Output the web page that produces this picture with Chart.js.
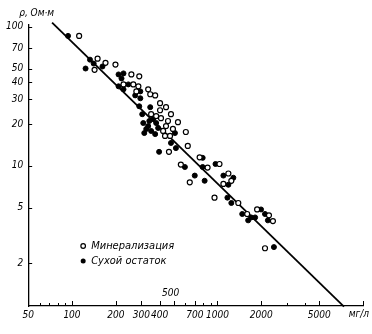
<!DOCTYPE html>
<html>
<head>
<meta charset="utf-8">
<script src="https://cdn.jsdelivr.net/npm/chart.js@4/dist/chart.umd.min.js"></script>
<style>
  body { margin: 0; background: #fff; }
</style>
</head>
<body>
<canvas id="chart" width="372" height="334"></canvas>
<script>
// Минерализация (open circles), mg/l vs ohm·m
var mineralX = [112,150,170,143,199,256,290,226,264,286,277,334,345,373,403,443,403,479,350,379,409,457,535,443,423,494,436,472,606,625,464,754,560,855,1032,645,1188,1245,1098,954,1390,1600,1872,2258,2404,2121];
var mineralY = [86,59,55,49,53.5,45.4,44,38.5,38.5,37.3,34.3,35.5,32.7,32.1,28.2,26.4,25.1,23.5,23.5,22.8,22,21,20.6,19.3,17.8,18.4,16.4,16.4,17.5,13.9,12.6,11.5,10.2,9.7,10.3,7.6,8.8,7.8,7.4,5.9,5.4,4.5,4.85,4.4,4.0,2.55];

// Сухой остаток (filled circles)
var dryX = [94,133,141,162,124,209,226,219,209,244,226,295,272,295,290,345,304,309,361,379,334,324,350,391,373,510,479,518,397,791,597,791,969,698,816,1098,1285,1188,1170,1245,1479,1703,1625,1814,1992,2121,2220,2443,340,314];
var dryY = [86,58,54.4,51.8,50.1,45.4,46.2,42.5,37.3,38.5,35.5,34.3,32.1,30.6,26.8,26.4,23.5,20.3,21.7,20.3,19.3,18.4,17.8,18.7,16.9,17.2,14.6,13.4,12.6,11.4,9.8,9.8,10.3,8.5,7.8,8.5,8.2,7.3,5.9,5.4,4.5,4.25,4.05,4.25,4.85,4.5,4.05,2.6,21.0,17.2];

// regression line ends
var lineX = [73, 7400];
var lineY = [107, 0.97];

var xTicks = [50,60,70,80,90,100,200,300,400,500,600,700,800,900,1000,2000,3000,4000,5000,10000];
var xTickLabels = [50,100,200,300,400,700,1000,2000,5000];
var yTicks = [2,5,10,20,30,40,50,70,100];

function pts(xs, ys) {
    return xs.map(function (v, i) { return { x: v, y: ys[i] }; });
}

// pick a narrow font if one is installed
function hasFont(name) {
    var c = document.createElement('canvas').getContext('2d');
    c.font = '20px monospace';
    var w0 = c.measureText('Минерализация 300').width;
    c.font = '20px "' + name + '", monospace';
    return c.measureText('Минерализация 300').width !== w0;
}
var FONT = '"Liberation Sans", sans-serif';
var SIZE = 10;
if (hasFont('Liberation Sans Narrow')) { FONT = '"Liberation Sans Narrow"'; SIZE = 11; }
else if (hasFont('DejaVu Sans Condensed')) { FONT = '"DejaVu Sans Condensed"'; SIZE = 10; }

var decor = {
    id: 'decor',
    afterDraw: function (chart) {
        var ctx = chart.ctx, a = chart.chartArea;
        var x = chart.scales.x, y = chart.scales.y;
        ctx.save();
        ctx.strokeStyle = '#000';
        ctx.lineWidth = 1;
        ctx.beginPath();
        xTicks.forEach(function (v) {
            var px = Math.round(x.getPixelForValue(v)) + 0.5;
            var len = (xTickLabels.indexOf(v) >= 0 || v === 500 || v === 10000) ? 5 : 3;
            ctx.moveTo(px, a.bottom);
            ctx.lineTo(px, a.bottom - len);
        });
        yTicks.forEach(function (v) {
            var py = Math.round(y.getPixelForValue(v)) + 0.5;
            ctx.moveTo(a.left, py);
            ctx.lineTo(a.left + 4, py);
        });
        ctx.stroke();

        ctx.fillStyle = '#000';
        ctx.font = 'italic ' + SIZE + 'px ' + FONT;
        ctx.textBaseline = 'middle';
        ctx.textAlign = 'left';
        ctx.fillText('ρ, Ом·м', a.left - 9, a.top - 12);

        ctx.textAlign = 'center';
        ctx.fillText('500', x.getPixelForValue(500) - 3, a.bottom - 13);

        ctx.textAlign = 'right';
        ctx.fillText('мг/л', 369, a.bottom + 8);

        // legend
        var lx = a.left + 55, ly = a.bottom - 60;
        ctx.textAlign = 'left';
        ctx.lineWidth = 1.2;
        ctx.beginPath();
        ctx.arc(lx, ly, 2.3, 0, Math.PI * 2);
        ctx.fillStyle = '#fff';
        ctx.fill();
        ctx.stroke();
        ctx.beginPath();
        ctx.arc(lx, ly + 15, 2.5, 0, Math.PI * 2);
        ctx.fillStyle = '#000';
        ctx.fill();
        ctx.font = 'italic ' + (SIZE + 1) + 'px ' + FONT;
        ctx.fillText('Минерализация', lx + 8, ly);
        ctx.fillText('Сухой остаток', lx + 8, ly + 15);
        ctx.restore();
    }
};

new Chart(document.getElementById('chart').getContext('2d'), {
    type: 'scatter',
    data: {
        datasets: [{
            type: 'line',
            label: 'line',
            data: pts(lineX, lineY),
            borderColor: '#000',
            borderWidth: 1.8,
            pointRadius: 0,
            fill: false,
            clip: false,
            order: 3
        }, {
            label: 'Сухой остаток',
            data: pts(dryX, dryY),
            backgroundColor: '#000',
            borderColor: '#000',
            borderWidth: 1,
            pointRadius: 2.5,
            order: 2
        }, {
            label: 'Минерализация',
            data: pts(mineralX, mineralY),
            backgroundColor: '#fff',
            borderColor: '#000',
            borderWidth: 1.2,
            pointRadius: 2.5,
            order: 1
        }]
    },
    options: {
        responsive: false,
        animation: false,
        layout: { padding: { left: 1, right: 9, top: 25, bottom: 10 } },
        plugins: {
            legend: { display: false },
            tooltip: { enabled: false }
        },
        scales: {
            x: {
                type: 'logarithmic',
                min: 50,
                max: 10000,
                afterBuildTicks: function (s) {
                    s.ticks = xTicks.map(function (v) { return { value: v }; });
                },
                ticks: {
                    autoSkip: false,
                    maxRotation: 0,
                    padding: 3,
                    color: '#000',
                    font: { family: FONT, size: SIZE, style: 'italic' },
                    callback: function (v) {
                        return xTickLabels.indexOf(v) >= 0 ? String(v) : '';
                    }
                },
                grid: { display: true, drawOnChartArea: false, drawTicks: false },
                border: { display: true, color: '#000', width: 1.3 }
            },
            y: {
                type: 'logarithmic',
                min: 0.98,
                max: 103,
                afterBuildTicks: function (s) {
                    s.ticks = yTicks.map(function (v) { return { value: v }; });
                },
                ticks: {
                    autoSkip: false,
                    padding: 5,
                    color: '#000',
                    font: { family: FONT, size: SIZE, style: 'italic' },
                    callback: function (v) { return String(v); }
                },
                grid: { display: true, drawOnChartArea: false, drawTicks: false },
                border: { display: true, color: '#000', width: 1.3 }
            }
        }
    },
    plugins: [decor]
});
</script>
</body>
</html>
